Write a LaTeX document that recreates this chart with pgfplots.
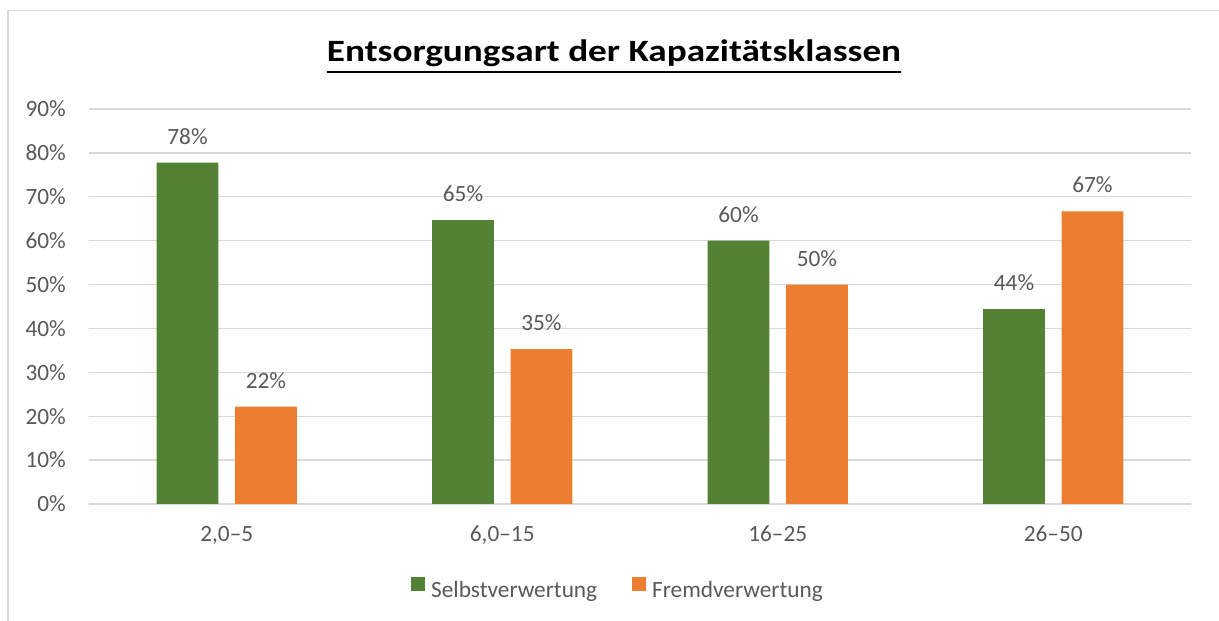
\documentclass[border=0pt]{standalone}
\usepackage{pgfplots}
\pgfplotsset{compat=1.18}
\usepackage{fontspec}
\setmainfont{Carlito}
\definecolor{grn}{HTML}{548235}
\definecolor{org}{HTML}{ED7D31}
\definecolor{txt}{HTML}{595959}
\definecolor{grd}{HTML}{D9D9D9}
\newcommand{\lblfont}{\fontsize{23.3}{28}\selectfont}
\begin{document}
\begin{tikzpicture}[x=1pt,y=1pt]
\useasboundingbox (0,0) rectangle (1219,621);
\fill[white] (0,0) rectangle (1219,621);
\draw[grd, line width=1.5pt] (8,-2) -- (8,610.5) -- (1221,610.5);
\begin{axis}[
  at={(89pt,117pt)}, anchor=south west,
  scale only axis, width=1102pt, height=395pt,
  xmin=-0.5, xmax=3.5, ymin=0, ymax=90,
  ybar=16.7pt, bar width=61.7pt,
  /pgf/number format/assume math mode=true,
  xtick={0,1,2,3},
  xticklabels={{2,0–5},{6,0–15},{16–25},{26–50}},
  ytick={0,10,...,90},
  yticklabels={0\%,10\%,20\%,30\%,40\%,50\%,60\%,70\%,80\%,90\%},
  ymajorgrids, major grid style={grd, line width=1.3pt},
  axis line style={draw=none}, major tick length=0pt,
  tick label style={font=\lblfont, text=txt},
  yticklabel style={anchor=east, inner sep=0pt, xshift=-23pt},
  xticklabel style={anchor=base, inner sep=0pt, yshift=-38pt},
  nodes near coords={\pgfmathprintnumber[fixed,precision=0,assume math mode=true]{\pgfplotspointmeta}\%},
  nodes near coords style={font=\lblfont, text=txt, anchor=base, inner sep=0pt, yshift=18.5pt},
  legend style={at={(0.480,-0.215)}, anchor=center, draw=none, fill=none,
    font=\lblfont, text=txt, legend columns=2,
    /tikz/every odd column/.append style={column sep=4pt},
    /tikz/every even column/.append style={column sep=33pt}},
  legend image code/.code={\fill[#1] (0pt,-1pt) rectangle (14pt,13pt);},
]
\addplot[fill=grn, draw=none] coordinates {(0,77.8) (1,64.7) (2,60) (3,44.4)};
\addlegendentry{Selbstverwertung}
\addplot[fill=org, draw=none] coordinates {(0,22.2) (1,35.3) (2,50) (3,66.7)};
\addlegendentry{Fremdverwertung}
\end{axis}
\node[anchor=base, inner sep=0pt, font=\bfseries\fontsize{31}{32}\selectfont] (t) at (614,559) {\scalebox{1.2}[1]{Entsorgungsart der Kapazitätsklassen}};
\draw[line width=2pt] ([yshift=-10.5pt]t.base west) -- ([yshift=-10.5pt]t.base east);
\end{tikzpicture}
\end{document}
